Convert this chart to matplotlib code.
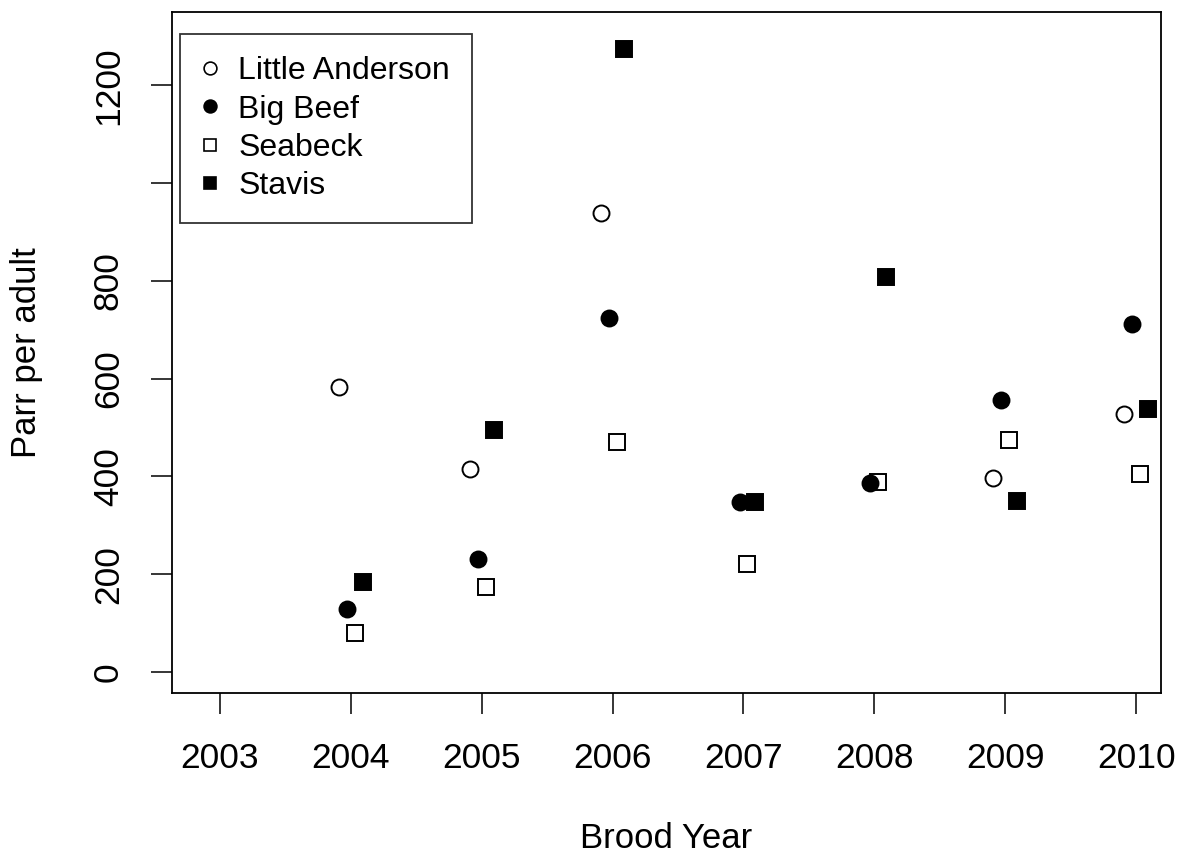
import matplotlib
matplotlib.use("Agg")
import matplotlib.pyplot as plt
from matplotlib.lines import Line2D

plt.rcParams["font.family"] = ["Liberation Sans", "DejaVu Sans"]

# Brood years and parr-per-adult estimates for each stream
years_tick = [2003, 2004, 2005, 2006, 2007, 2008, 2009, 2010]

la_years = [2004, 2005, 2006, 2009, 2010]
la_vals = [582, 416, 939, 396, 527]

bb_years = [2004, 2005, 2006, 2007, 2008, 2009, 2010]
bb_vals = [128, 232, 724, 347, 386, 557, 711]

sb_years = [2004, 2005, 2006, 2007, 2008, 2009, 2010]
sb_vals = [79, 173, 470, 221, 388, 474, 406]

st_years = [2004, 2005, 2006, 2007, 2008, 2009, 2010]
st_vals = [184, 496, 1275, 348, 807, 350, 538]

y_ticks = [0, 200, 400, 600, 800, 1000, 1200]
y_ticklabels = ["0", "200", "400", "600", "800", "", "1200"]

fig = plt.figure(figsize=(11.82, 8.61), dpi=100)
ax = fig.add_axes([0.1455, 0.1951, 0.9822 - 0.1455, 0.986 - 0.1951])

ms = 11.5
ew = 1.4
series = [
    ("Little Anderson", la_years, la_vals, -0.09, "o", "none"),
    ("Big Beef", bb_years, bb_vals, -0.03, "o", "black"),
    ("Seabeck", sb_years, sb_vals, 0.03, "s", "none"),
    ("Stavis", st_years, st_vals, 0.09, "s", "black"),
]
handles = []
for name, yrs, vals, off, mk, fc in series:
    ax.plot([y + off for y in yrs], vals, linestyle="none", marker=mk,
            markersize=ms, markerfacecolor=fc, markeredgecolor="black",
            markeredgewidth=ew)
    handles.append(Line2D([], [], linestyle="none", marker=mk,
                          markersize=ms * 0.8, markerfacecolor=fc,
                          markeredgecolor="black", markeredgewidth=ew * 0.85,
                          label=name))

ax.set_xlim(2002.633, 2010.19)
ax.set_ylim(-43, 1350)
ax.set_xticks(years_tick)
ax.set_xticklabels([str(y) for y in years_tick])
ax.set_yticks(y_ticks)
ax.set_yticklabels(y_ticklabels, rotation=90, va="center")

for s in ax.spines.values():
    s.set_linewidth(1.3)
ax.tick_params(axis="both", direction="out", length=15, width=1.1,
               labelsize=25.5)
ax.tick_params(axis="x", pad=20)
ax.tick_params(axis="y", pad=19)

ax.set_xlabel("Brood Year", fontsize=25)
ax.set_ylabel("Parr per adult", fontsize=25)
ax.xaxis.set_label_coords(0.5, -0.1894)
ax.yaxis.set_label_coords(-0.1305, 0.5)

leg = ax.legend(handles=handles, loc="upper left",
                bbox_to_anchor=(0.008, 0.968), fontsize=23,
                frameon=True, fancybox=False, borderpad=0.7,
                handlelength=0.5, handletextpad=0.62, labelspacing=0.26,
                borderaxespad=0)
leg.get_frame().set_edgecolor("black")
leg.get_frame().set_linewidth(1.3)

fig.savefig("out.png", dpi=100)
